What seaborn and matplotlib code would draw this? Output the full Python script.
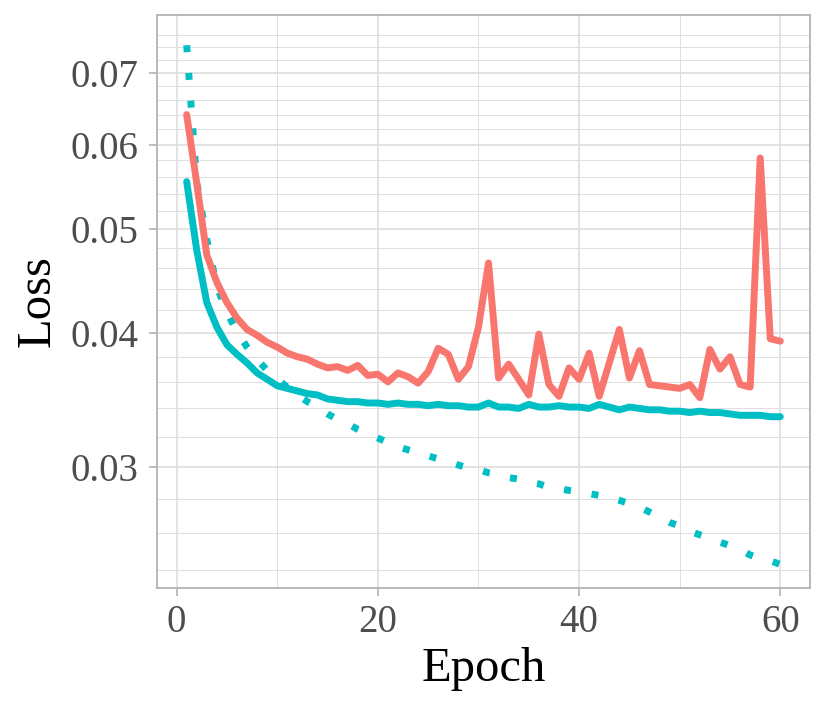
import numpy as np
import pandas as pd
import seaborn as sns
import matplotlib.pyplot as plt
from matplotlib.ticker import FixedLocator, NullFormatter

# Values
epochs = list(range(1, 61))

loss_red = [0.0640, 0.0552, 0.0473, 0.0446, 0.0427, 0.0413, 0.0403, 0.0398, 0.0392, 0.0388,
            0.0383, 0.0380, 0.0378, 0.0374, 0.0371, 0.0372, 0.0369, 0.0373, 0.0365, 0.0366,
            0.0360, 0.0367, 0.0364, 0.0359, 0.0368, 0.0387, 0.0382, 0.0362, 0.0372, 0.0405,
            0.0465, 0.0363, 0.0374, 0.0362, 0.0350, 0.0399, 0.0358, 0.0349, 0.0371, 0.0362,
            0.0383, 0.0349, 0.0375, 0.0403, 0.0363, 0.0385, 0.0358, 0.0357, 0.0356, 0.0355,
            0.0358, 0.0348, 0.0386, 0.0370, 0.0380, 0.0358, 0.0356, 0.0583, 0.0395, 0.0393]

loss_teal = [0.0554, 0.0478, 0.0427, 0.0405, 0.0390, 0.0382, 0.0375, 0.0367, 0.0362, 0.0357,
             0.0355, 0.0353, 0.0351, 0.0350, 0.0347, 0.0346, 0.0345, 0.0345, 0.0344, 0.0344,
             0.0343, 0.0344, 0.0343, 0.0343, 0.0342, 0.0343, 0.0342, 0.0342, 0.0341, 0.0341,
             0.0344, 0.0341, 0.0341, 0.0340, 0.0343, 0.0341, 0.0341, 0.0342, 0.0341, 0.0341,
             0.0340, 0.0343, 0.0341, 0.0339, 0.0341, 0.0340, 0.0339, 0.0339, 0.0338, 0.0338,
             0.0337, 0.0338, 0.0337, 0.0337, 0.0336, 0.0335, 0.0335, 0.0335, 0.0334, 0.0334]

loss_teal_dotted = [0.0743, 0.0553, 0.0489, 0.0442, 0.0418, 0.0401, 0.0388, 0.0378, 0.0369, 0.0362,
                    0.0356, 0.0350, 0.0345, 0.0341, 0.0336, 0.0332, 0.0329, 0.0325, 0.0322, 0.0319,
                    0.0316, 0.0313, 0.0311, 0.0309, 0.0307, 0.0305, 0.0303, 0.0301, 0.0299, 0.0298,
                    0.0296, 0.0295, 0.0293, 0.0292, 0.0290, 0.0289, 0.0287, 0.0286, 0.0285, 0.0284,
                    0.0283, 0.0282, 0.0281, 0.0279, 0.0277, 0.0275, 0.0272, 0.0269, 0.0266, 0.0264,
                    0.0261, 0.0259, 0.0257, 0.0255, 0.0253, 0.0251, 0.0248, 0.0246, 0.0245, 0.0243]

y_breaks = [0.03, 0.04, 0.05, 0.06, 0.07]
y_labels = ["0.03", "0.04", "0.05", "0.06", "0.07"]
x_breaks = [0, 20, 40, 60]

df = pd.DataFrame({
    "epoch": epochs * 3,
    "loss": loss_teal_dotted + loss_teal + loss_red,
    "series": ["dotted"] * 60 + ["teal"] * 60 + ["red"] * 60,
})

sns.set_theme(style="white")
plt.rcParams["font.family"] = ["Liberation Serif", "DejaVu Serif"]

teal = "#00BFC4"
red = "#F8766D"
grid_col = "#DEDEDE"
border_col = "#B3B3B3"

fig = plt.figure(figsize=(8.3, 7.12), dpi=100)
ax = fig.add_axes([157 / 830, 1 - 588 / 712, (810 - 157) / 830, (588 - 15) / 712])

sns.lineplot(data=df, x="epoch", y="loss", hue="series", style="series",
             palette={"dotted": teal, "teal": teal, "red": red},
             dashes={"dotted": (1, 3), "teal": "", "red": ""},
             linewidth=5.0, estimator=None, legend=False, ax=ax)

ax.set_yscale("log")
ax.set_ylim(0.0231, 0.0793)
xpad = (60 - 1) * 0.05
ax.set_xlim(1 - xpad, 60 + xpad)

ax.yaxis.set_major_locator(FixedLocator(y_breaks))
ax.set_yticklabels(y_labels)
minor_y = [v / 1000 for v in range(24, 78, 2) if v not in (30, 40, 50, 60, 70)]
ax.yaxis.set_minor_locator(FixedLocator(minor_y))
ax.yaxis.set_minor_formatter(NullFormatter())
ax.xaxis.set_major_locator(FixedLocator(x_breaks))
ax.xaxis.set_minor_locator(FixedLocator([10, 30, 50]))

ax.grid(which="major", color=grid_col, linewidth=1.2)
ax.grid(which="minor", color=grid_col, linewidth=0.7)
ax.set_axisbelow(True)

for s in ax.spines.values():
    s.set_color(border_col)
    s.set_linewidth(1.3)

ax.tick_params(which="major", length=6, width=1.2, color=border_col,
               labelsize=28, labelcolor="#4D4D4D")
ax.tick_params(axis="x", which="major", pad=5.5, bottom=True)
ax.tick_params(axis="y", which="major", pad=7.5, left=True)
ax.tick_params(which="minor", length=0)

ax.set_xlabel("Epoch", fontsize=35, color="black", labelpad=4)
ax.set_ylabel("Loss", fontsize=35, color="black", labelpad=8)

fig.savefig("out.png", dpi=100)
